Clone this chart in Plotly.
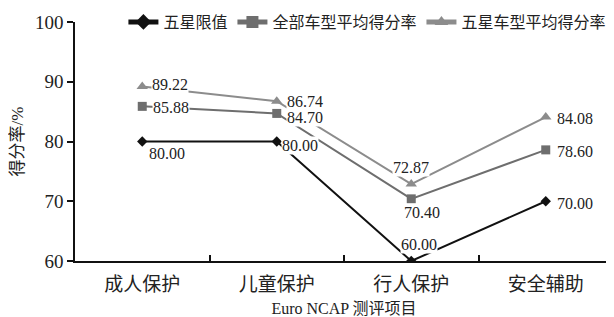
import plotly.graph_objects as go

categories = ["成人保护", "儿童保护", "行人保护", "安全辅助"]
five_star_limit = [80.00, 80.00, 60.00, 70.00]
all_models_avg = [85.88, 84.70, 70.40, 78.60]
five_star_avg = [89.22, 86.74, 72.87, 84.08]
series_names = ["五星限值", "全部车型平均得分率", "五星车型平均得分率"]
y_ticks = [60, 70, 80, 90, 100]

SERIF = "Liberation Serif, Times New Roman, Noto Sans CJK SC, serif"

series = [
    (series_names[0], five_star_limit, "#111111", "diamond", 8),
    (series_names[1], all_models_avg, "#6e6e6e", "square", 9),
    (series_names[2], five_star_avg, "#8c8c8c", "triangle-up", 10),
]

# label offsets (xanchor, xshift, yshift) per series per point
offsets = [
    [("left", 6, -12), ("left", 4, -4), ("center", 8, 17), ("left", 10, -2)],
    [("left", 10, -1), ("left", 9, -4), ("center", 11, -14), ("left", 10, -2)],
    [("left", 9, 2), ("left", 9, 0), ("center", 0, 17), ("left", 10, -1)],
]

fig = go.Figure()
annotations = []
for (name, vals, color, sym, size), offs in zip(series, offsets):
    fig.add_trace(go.Scatter(
        x=categories, y=vals, name=name, mode="lines+markers",
        line=dict(color=color, width=2),
        marker=dict(symbol=sym, size=size, color=color),
    ))
    for c, v, (xa, dx, dy) in zip(categories, vals, offs):
        annotations.append(dict(
            x=c, y=v, xref="x", yref="y", text=f"{v:.2f}", showarrow=False,
            xanchor=xa, yanchor="middle", xshift=dx, yshift=dy,
            bgcolor="white", borderpad=0,
            font=dict(family=SERIF, size=16, color="#222222"),
        ))

# the page body adds an 8px offset, so the figure is sized to fit inside
fig.update_layout(
    width=606, height=309,
    margin=dict(l=67, r=1, t=14, b=56, autoexpand=False),
    paper_bgcolor="white", plot_bgcolor="white",
    font=dict(family=SERIF, size=16, color="#222222"),
    annotations=annotations,
    legend=dict(
        orientation="h", x=0.09, xanchor="left", y=1.0, yanchor="middle",
        font=dict(size=16, family=SERIF), itemwidth=30, bgcolor="rgba(0,0,0,0)",
        tracegroupgap=0, itemsizing="constant",
    ),
    showlegend=True,
)
fig.update_xaxes(
    type="category", range=[-0.5, 3.5], tickson="boundaries",
    ticks="inside", ticklen=6, tickcolor="#111111", tickwidth=1.5,
    showline=True, linecolor="#111111", linewidth=1.5, showgrid=False,
    tickfont=dict(size=19, family=SERIF), automargin=False, ticklabelstandoff=5,
    title=dict(text="Euro NCAP 测评项目", font=dict(size=16, family=SERIF), standoff=13),
)
fig.update_yaxes(
    range=[60, 100], tickvals=y_ticks, ticks="outside", ticklen=6,
    tickcolor="#111111", tickwidth=1.5, automargin=False,
    showline=True, linecolor="#111111", linewidth=1.5, showgrid=False,
    zeroline=False, tickfont=dict(size=19, family=SERIF),
    title=dict(text="得分率/%", font=dict(size=17, family=SERIF), standoff=10),
)

fig.write_html("out.html")
